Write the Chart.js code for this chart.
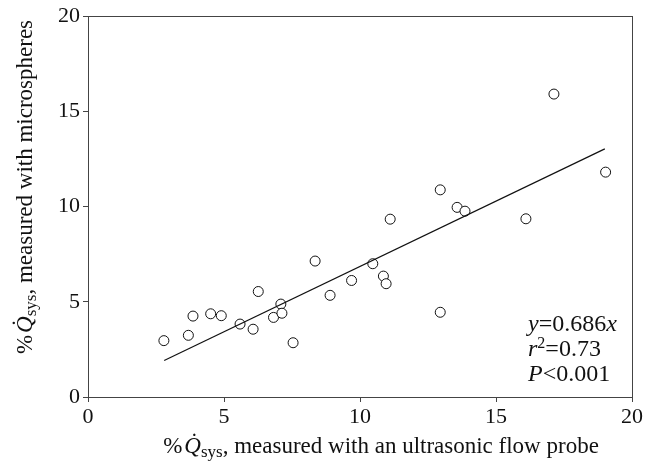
<!DOCTYPE html>
<html>
<head>
<meta charset="utf-8">
<script src="https://cdn.jsdelivr.net/npm/chart.js@4"></script>
<style>
  html, body { margin: 0; padding: 0; background: #fff; }
  #wrap { width: 647px; height: 469px; position: relative; }
</style>
</head>
<body>
<div id="wrap"><canvas id="chart"></canvas></div>
<script>
// values
const flowProbe = [2.79, 3.69, 3.86, 4.51, 4.90, 5.59, 6.07, 6.26, 6.82, 7.09, 7.13, 7.54, 8.35,
    8.90, 9.69, 10.47, 10.86, 10.96, 11.11, 12.95, 12.95, 13.57, 13.86, 16.10, 17.13, 19.03];
const microspheres = [2.96, 3.24, 4.25, 4.37, 4.27, 3.83, 3.56, 5.54, 4.18, 4.88, 4.40, 2.85, 7.14,
    5.34, 6.12, 7.00, 6.35, 5.95, 9.34, 10.88, 4.45, 9.96, 9.76, 9.36, 15.91, 11.81];
const fitX = [2.8, 19.0];
const fitY = [1.92, 13.03];
const axisTicks = [0, 5, 10, 15, 20];

const serif = '"Liberation Serif", "Times New Roman", serif';

function drawRuns(ctx, runs, x, y) {
    let cx = x;
    runs.forEach(r => {
        ctx.font = r.font;
        ctx.fillText(r.t, cx, y + (r.dy || 0));
        cx += ctx.measureText(r.t).width + (r.gap || 0);
    });
}

function runsWidth(ctx, runs) {
    let w = 0;
    runs.forEach(r => {
        ctx.font = r.font;
        w += ctx.measureText(r.t).width + (r.gap || 0);
    });
    return w;
}

function titleRuns(rest) {
    return [
        { t: '%', font: '23px ' + serif, gap: 2 },
        { t: 'Q\u0307', font: 'italic 23px ' + serif },
        { t: 'sys', font: '17px ' + serif, dy: 4 },
        { t: rest, font: '23px ' + serif }
    ];
}

const textPlugin = {
    id: 'textPlugin',
    afterDraw(chart) {
        const ctx = chart.ctx;
        const area = chart.chartArea;
        ctx.save();

        // box around plot area
        ctx.strokeStyle = '#444';
        ctx.lineWidth = 1;
        ctx.strokeRect(Math.round(area.left) + 0.5, Math.round(area.top) + 0.5,
            Math.round(area.right - area.left), Math.round(area.bottom - area.top));

        ctx.fillStyle = '#111';
        ctx.textBaseline = 'alphabetic';
        ctx.textAlign = 'left';

        // x axis title
        const xr = titleRuns(', measured with an ultrasonic flow probe');
        const xw = runsWidth(ctx, xr);
        drawRuns(ctx, xr, (area.left + area.right) / 2 - xw / 2 + 21, 453);

        // y axis title
        const yr = titleRuns(', measured with microspheres');
        const yw = runsWidth(ctx, yr);
        ctx.save();
        ctx.translate(32, 187);
        ctx.rotate(-Math.PI / 2);
        drawRuns(ctx, yr, -yw / 2, 0);
        ctx.restore();

        // regression annotation
        const ax = 528;
        drawRuns(ctx, [
            { t: 'y', font: 'italic 24px ' + serif },
            { t: '=0.686', font: '24px ' + serif },
            { t: 'x', font: 'italic 24px ' + serif }
        ], ax, 331);
        drawRuns(ctx, [
            { t: 'r', font: 'italic 24px ' + serif },
            { t: '2', font: '16px ' + serif, dy: -8 },
            { t: '=0.73', font: '24px ' + serif }
        ], ax, 356);
        drawRuns(ctx, [
            { t: 'P', font: 'italic 24px ' + serif },
            { t: '<0.001', font: '24px ' + serif }
        ], ax, 381);

        ctx.restore();
    }
};

const ctx = document.getElementById('chart').getContext('2d');
new Chart(ctx, {
    type: 'scatter',
    data: {
        datasets: [
            {
                label: 'fit',
                type: 'line',
                data: fitX.map((x, i) => ({ x: x, y: fitY[i] })),
                borderColor: '#111',
                borderWidth: 1.2,
                pointRadius: 0,
                fill: false
            },
            {
                label: 'measurements',
                data: flowProbe.map((x, i) => ({ x: x, y: microspheres[i] })),
                pointRadius: 5,
                pointBorderWidth: 1,
                pointBorderColor: '#111',
                pointBackgroundColor: '#fff'
            }
        ]
    },
    options: {
        responsive: true,
        maintainAspectRatio: false,
        animation: false,
        layout: { padding: { left: 0, top: 16, right: 15, bottom: 0 } },
        plugins: {
            legend: { display: false },
            tooltip: { enabled: false }
        },
        scales: {
            x: {
                type: 'linear',
                min: 0,
                max: 20,
                afterBuildTicks: (scale) => { scale.ticks = axisTicks.map(v => ({ value: v })); },
                afterFit: (scale) => { scale.height = 72; },
                border: { color: '#444', width: 1 },
                grid: { drawOnChartArea: false, tickLength: 5, color: '#444' },
                ticks: { color: '#111', padding: 2, font: { family: serif, size: 22 } }
            },
            y: {
                type: 'linear',
                min: 0,
                max: 20,
                afterBuildTicks: (scale) => { scale.ticks = axisTicks.map(v => ({ value: v })); },
                afterFit: (scale) => { scale.width = 88; },
                border: { color: '#444', width: 1 },
                grid: { drawOnChartArea: false, tickLength: 5, color: '#444' },
                ticks: { color: '#111', padding: 3, font: { family: serif, size: 22 } }
            }
        }
    },
    plugins: [textPlugin]
});
</script>
</body>
</html>
